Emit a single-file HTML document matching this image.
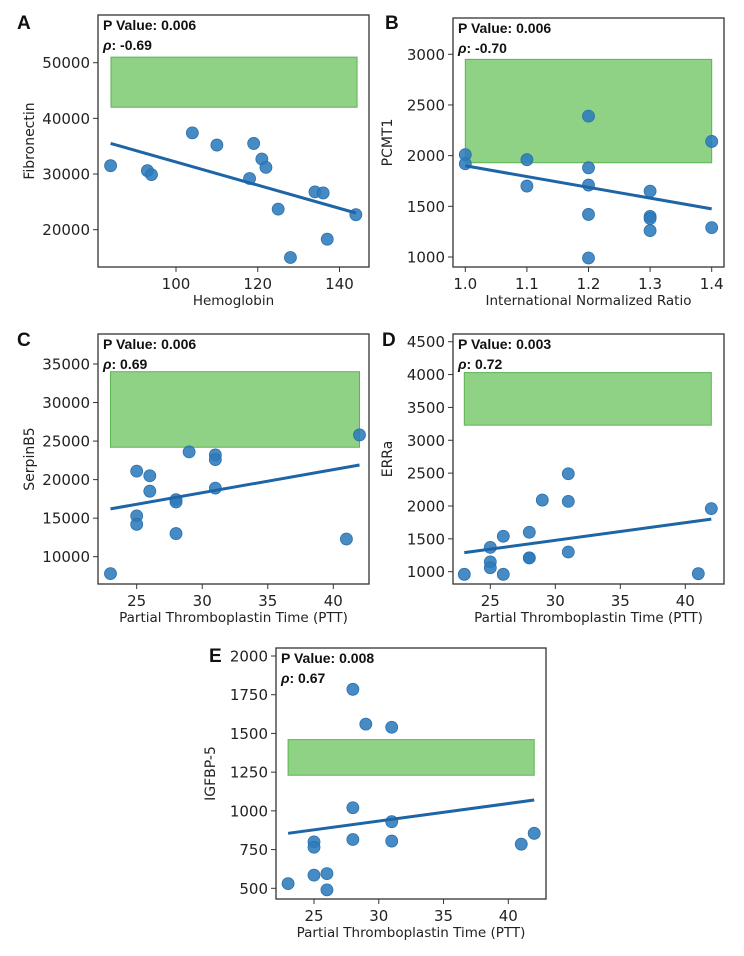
<!DOCTYPE html>
<html><head><meta charset="utf-8">
<style>
html,body{margin:0;padding:0;background:#fff;}
svg{display:block;}
text{font-family:"DejaVu Sans","Liberation Sans",sans-serif;fill:#222;}
.ann{font-family:"Liberation Sans",sans-serif;font-weight:bold;font-size:14px;fill:#111;}
.let{font-family:"Liberation Sans",sans-serif;font-weight:bold;font-size:19px;fill:#111;}
</style></head>
<body>
<svg id="fig" width="744" height="956" viewBox="0 0 744 956" xmlns="http://www.w3.org/2000/svg"></svg>
<script>
// Panel A data
const aX = [84,93,94,104,110,118,119,121,122,125,128,134,136,137,144];
const aY = [31500,30600,29900,37400,35200,29200,35500,32700,31200,23700,15000,26800,26600,18300,22700];
const aXTicks = [100,120,140];
const aYTicks = [20000,30000,40000,50000];
const aFit = [35500,23000];
const aBand = [84.1,144.3,42000,51000];
// Panel B data
const bX = [1.0,1.0,1.1,1.1,1.2,1.2,1.2,1.2,1.2,1.3,1.3,1.3,1.3,1.4,1.4];
const bY = [2010,1920,1960,1700,2390,1880,1710,1420,990,1650,1400,1380,1260,2140,1290];
const bXTicks = [1.0,1.1,1.2,1.3,1.4];
const bYTicks = [1000,1500,2000,2500,3000];
const bFit = [1900,1475];
const bBand = [1.0,1.4,1930,2950];
// Panel C data
const cX = [23,25,25,25,26,26,28,28,28,29,31,31,31,41,42];
const cY = [7800,21100,15300,14200,20500,18500,17400,17100,13000,23600,23200,22600,18900,12300,25800];
const cXTicks = [25,30,35,40];
const cYTicks = [10000,15000,20000,25000,30000,35000];
const cFit = [16200,21900];
const cBand = [23,42,24200,34000];
// Panel D data
const dX = [23,25,25,25,26,26,28,28,28,29,31,31,31,41,42];
const dY = [960,1370,1150,1060,1540,960,1600,1210,1210,2090,2490,2070,1300,970,1960];
const dXTicks = [25,30,35,40];
const dYTicks = [1000,1500,2000,2500,3000,3500,4000,4500];
const dFit = [1290,1800];
const dBand = [23,42,3230,4030];
// Panel E data
const eX = [23,25,25,25,26,26,28,28,28,29,31,31,31,41,42];
const eY = [530,800,765,585,595,490,1785,1020,815,1560,1540,930,805,785,855];
const eXTicks = [25,30,35,40];
const eYTicks = [500,750,1000,1250,1500,1750,2000];
const eFit = [855,1070];
const eBand = [23,42,1230,1460];

const NS="http://www.w3.org/2000/svg";
const svg=document.getElementById('fig');
function mk(tag,attrs,parent){const e=document.createElementNS(NS,tag);for(const k in attrs)e.setAttribute(k,attrs[k]);(parent||svg).appendChild(e);return e;}

function panel(cfg){
  const g=mk('g',{});
  
  
  const sx=v=>cfg.px0+(v-cfg.xv0)*(cfg.px1-cfg.px0)/(cfg.xv1-cfg.xv0);
  const sy=v=>cfg.py0+(v-cfg.yv0)*(cfg.py1-cfg.py0)/(cfg.yv1-cfg.yv0);
  const b=cfg.box;
  const band=mk('rect',{x:sx(cfg.band[0]),y:sy(cfg.band[3]),width:sx(cfg.band[1])-sx(cfg.band[0]),height:sy(cfg.band[2])-sy(cfg.band[3]),fill:'#8fd185',stroke:'#5bb552','stroke-width':1},g);
  
  
  cfg.xs.forEach((xv,i)=>{
    const c=mk('circle',{cx:sx(xv),cy:sy(cfg.ys[i]),r:6,fill:'#2d7bbd','fill-opacity':0.88,stroke:'#2a6fab','stroke-width':0.8},g);
    
    
  });
  const xa=cfg.xs.reduce((a,b)=>Math.min(a,b)), xb=cfg.xs.reduce((a,b)=>Math.max(a,b));
  const ln=mk('line',{x1:sx(xa),y1:sy(cfg.fit[0]),x2:sx(xb),y2:sy(cfg.fit[1]),stroke:'#1d65a6','stroke-width':3},g);
  
  
  const fr=mk('rect',{x:b[0],y:b[1],width:b[2]-b[0],height:b[3]-b[1],fill:'none',stroke:'#333','stroke-width':1.3},g);
  
  
  cfg.xt.forEach(t=>{
    const x=sx(t);
    mk('line',{x1:x,y1:b[3],x2:x,y2:b[3]+5,stroke:'#333','stroke-width':1},g);
    const tx=mk('text',{x:x,y:b[3]+22,'text-anchor':'middle','font-size':15},g);
    tx.textContent=cfg.xfmt?t.toFixed(1):t;
    
    
  });
  cfg.yt.forEach(t=>{
    const y=sy(t);
    mk('line',{x1:b[0]-5,y1:y,x2:b[0],y2:y,stroke:'#333','stroke-width':1},g);
    const tx=mk('text',{x:b[0]-8,y:y+5.5,'text-anchor':'end','font-size':15},g);
    tx.textContent=t;
    
    
  });
  const xl=mk('text',{x:(b[0]+b[2])/2,y:b[3]+38,'text-anchor':'middle','font-size':13.5},g);
  xl.textContent=cfg.xlab;
  
  
  const yl=mk('text',{x:0,y:0,'text-anchor':'middle','font-size':14,transform:`translate(${cfg.ylx},${(b[1]+b[3])/2}) rotate(-90)`},g);
  yl.textContent=cfg.ylab;
  
  
  const p=mk('text',{x:b[0]+5,y:b[1]+15,class:'ann'},g);
  p.textContent=cfg.pv;
  
  
  const r=mk('text',{x:b[0]+5,y:b[1]+35,class:'ann'},g);
  r.innerHTML='<tspan font-style="italic">ρ</tspan>: '+cfg.rho;
  
  
  const L=mk('text',{x:cfg.let[0],y:cfg.let[1],class:'let'},g);
  L.textContent=cfg.id;
  
  
}

panel({id:'A',xs:aX,ys:aY,xt:aXTicks,yt:aYTicks,fit:aFit,band:aBand,box:[98,15,369,267],
  xv0:100,xv1:140,px0:176,px1:339.5,yv0:20000,yv1:50000,py0:229.7,py1:62.7,
  xlab:'Hemoglobin',ylab:'Fibronectin',ylx:34,pv:'P Value: 0.006',rho:'-0.69',let:[17,29]});
panel({id:'B',xs:bX,ys:bY,xt:bXTicks,yt:bYTicks,fit:bFit,band:bBand,box:[453,18,724,267],xfmt:true,
  xv0:1.0,xv1:1.4,px0:465.3,px1:711.7,yv0:1000,yv1:3000,py0:257,py1:54.3,
  xlab:'International Normalized Ratio',ylab:'PCMT1',ylx:392,pv:'P Value: 0.006',rho:'-0.70',let:[385,29]});
panel({id:'C',xs:cX,ys:cY,xt:cXTicks,yt:cYTicks,fit:cFit,band:cBand,box:[98,334,369,584],
  xv0:25,xv1:40,px0:136.7,px1:333.3,yv0:10000,yv1:35000,py0:556.7,py1:364,
  xlab:'Partial Thromboplastin Time (PTT)',ylab:'SerpinB5',ylx:34,pv:'P Value: 0.006',rho:'0.69',let:[17,346]});
panel({id:'D',xs:dX,ys:dY,xt:dXTicks,yt:dYTicks,fit:dFit,band:dBand,box:[453,334,724,584],
  xv0:25,xv1:40,px0:490.3,px1:685.3,yv0:1000,yv1:4500,py0:571.7,py1:341.7,
  xlab:'Partial Thromboplastin Time (PTT)',ylab:'ERRa',ylx:392,pv:'P Value: 0.003',rho:'0.72',let:[382,346]});
panel({id:'E',xs:eX,ys:eY,xt:eXTicks,yt:eYTicks,fit:eFit,band:eBand,box:[276,648,546,899],
  xv0:25,xv1:40,px0:314,px1:508.3,yv0:500,yv1:2000,py0:888.3,py1:656,
  xlab:'Partial Thromboplastin Time (PTT)',ylab:'IGFBP-5',ylx:215,pv:'P Value: 0.008',rho:'0.67',let:[209,662]});
</script>
</body></html>
